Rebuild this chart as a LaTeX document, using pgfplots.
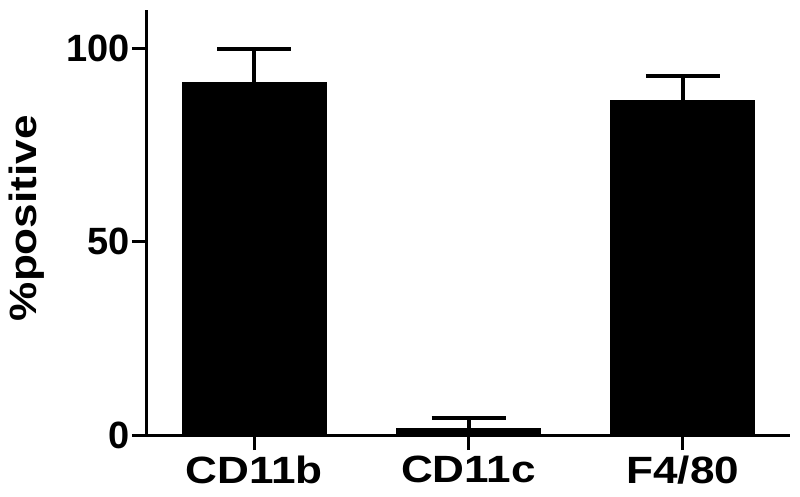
\documentclass[border=0pt]{standalone}
\usepackage{fontspec}
\setmainfont{Liberation Sans}
\newfontfamily\widefont{Liberation Sans}[FakeStretch=1.16]
\usepackage{pgfplots}
\pgfplotsset{compat=1.18}

\begin{document}
\begin{tikzpicture}
\begin{axis}[
  at={(0,0)}, anchor=south west,
  scale only axis,
  width=643pt, height=425pt,
  ybar, bar width=144pt,
  xmin=-0.5, xmax=2.5,
  ymin=0, ymax=110,
  axis x line*=bottom, axis y line*=left,
  axis line style={line width=3pt},
  xtick=data,
  xticklabels={CD11b,CD11c,F4/80},
  ytick={0,50,100},
  tick align=outside,
  major tick length=15pt,
  tick style={line width=3pt, black},
  /pgf/number format/assume math mode=true,
  yticklabel style={font=\fontsize{38}{40}\selectfont\bfseries, inner sep=2pt},
  xticklabel style={font=\fontsize{38}{40}\selectfont\widefont\bfseries, inner sep=2pt, yshift=-4pt},
  ylabel={\%positive},
  every axis y label/.style={at={(axis description cs:-0.187,0.51)}, rotate=90, anchor=center,
    font=\fontsize{38}{40}\selectfont\widefont\bfseries},
  clip=false,
]
\addplot[fill=black, draw=black, line width=1pt,
  error bars/.cd, y dir=plus, y explicit, error mark=|,
  error bar style={line width=4pt, black},
  error mark options={line width=4pt, mark size=37pt, black}]
coordinates {
  (0,91.2) +- (0,8.8)
  (1,1.8) +- (0,2.6)
  (2,86.6) +- (0,6.4)
};
\end{axis}
\pgfresetboundingbox
\path (-147pt,-61pt) rectangle (653pt,435pt);
\end{tikzpicture}
\end{document}
